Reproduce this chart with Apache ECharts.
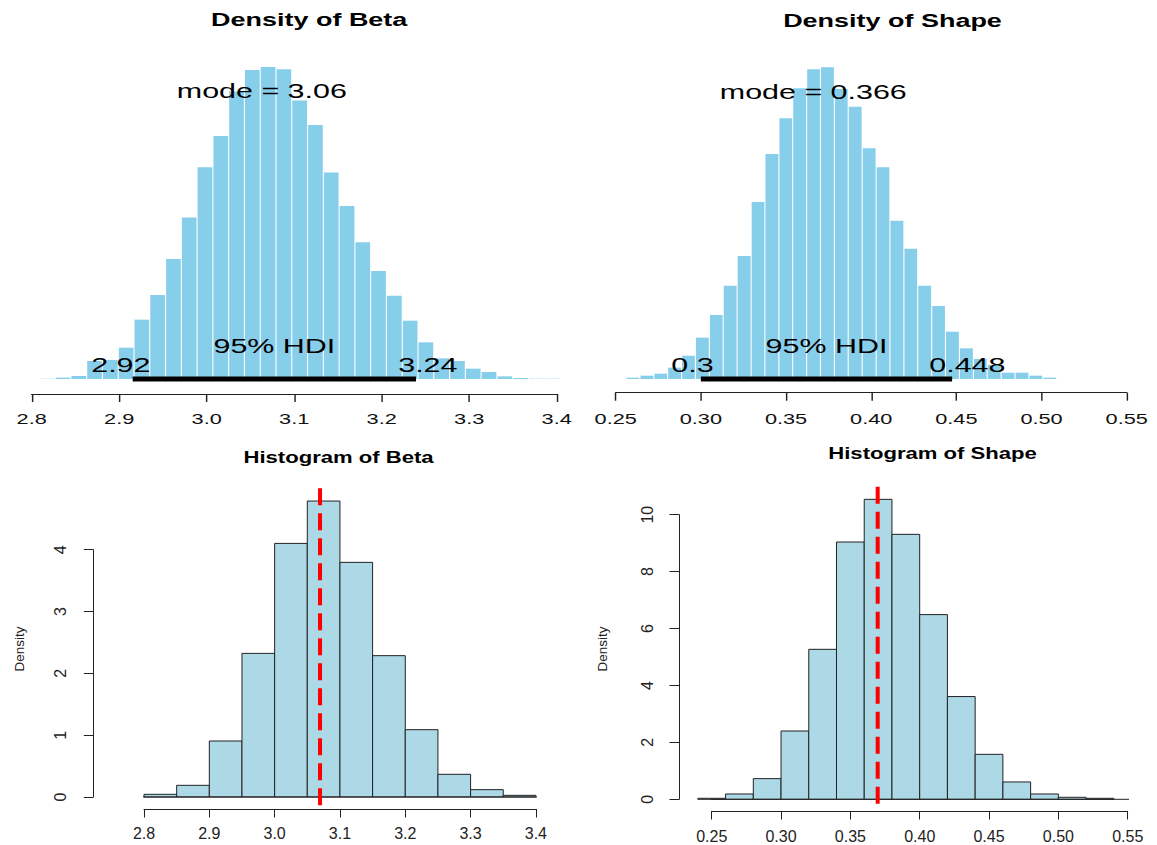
<!DOCTYPE html>
<html>
<head>
<meta charset="utf-8">
<script src="https://cdn.jsdelivr.net/npm/echarts@6/dist/echarts.min.js"></script>
<style>
html,body{margin:0;padding:0;background:#fff;width:1157px;height:845px;overflow:hidden;}
#top{position:absolute;left:0;top:0;height:845px;transform-origin:0 0;}
#bot{position:absolute;left:0;top:0;width:1157px;height:845px;}
</style>
</head>
<body>
<div id="top"></div>
<div id="bot"></div>
<script>
// ---------------- DATA ----------------
// Density of Beta (posterior, fine bins)
const betaBreaks = [2.8087,2.8267,2.8448,2.8628,2.8808,2.8989,2.9169,2.9349,2.9530,2.9710,2.9890,3.0071,3.0251,3.0431,3.0612,3.0792,3.0972,3.1153,3.1333,3.1513,3.1694,3.1874,3.2054,3.2235,3.2415,3.2595,3.2776,3.2956,3.3136,3.3317,3.3497,3.3677,3.3858,3.4038];
const betaDens = [0.005,0.021,0.047,0.280,0.296,0.487,0.923,1.307,1.867,2.510,3.293,3.780,4.470,4.807,4.853,4.817,4.330,3.951,3.210,2.691,2.126,1.680,1.296,0.907,0.570,0.321,0.280,0.161,0.109,0.041,0.016,0.005,0.005];
const betaMode = 3.063;
const betaModeLabel = 'mode = 3.06';
const betaHDI = [2.9154, 3.2392];
const betaHDILabels = ['2.92', '3.24'];
const betaTopTicks = ['2.8','2.9','3.0','3.1','3.2','3.3','3.4'];

// Density of Shape (posterior, fine bins)
const shapeBreaks = [0.2561,0.2642,0.2724,0.2805,0.2887,0.2968,0.3050,0.3131,0.3213,0.3295,0.3376,0.3458,0.3539,0.3621,0.3702,0.3784,0.3865,0.3947,0.4029,0.4110,0.4192,0.4273,0.4355,0.4436,0.4518,0.4600,0.4681,0.4763,0.4844,0.4926,0.5007,0.5089];
const shapeDens = [0.046,0.116,0.185,0.394,0.810,1.436,2.223,3.242,4.272,6.148,7.815,9.054,10.096,10.756,10.825,10.073,9.459,8.012,7.352,5.500,4.527,3.242,2.536,1.644,1.065,0.695,0.486,0.220,0.220,0.116,0.046];
const shapeMode = 0.366;
const shapeModeLabel = 'mode = 0.366';
const shapeHDI = [0.3000, 0.4475];
const shapeHDILabels = ['0.3', '0.448'];
const shapeTopTicks = ['0.25','0.30','0.35','0.40','0.45','0.50','0.55'];

// Histogram of Beta
const betaHistBreaks = [2.80,2.85,2.90,2.95,3.00,3.05,3.10,3.15,3.20,3.25,3.30,3.35,3.40];
const betaHistDens = [0.043,0.189,0.906,2.323,4.102,4.787,3.795,2.286,1.089,0.367,0.119,0.027];
const betaHistLine = 3.0695;
const betaHistXTicks = ['2.8','2.9','3.0','3.1','3.2','3.3','3.4'];
const betaHistYTicks = ['0','1','2','3','4'];

// Histogram of Shape
const shapeHistBreaks = [0.24,0.26,0.28,0.30,0.32,0.34,0.36,0.38,0.40,0.42,0.44,0.46,0.48,0.50,0.52,0.54];
const shapeHistDens = [0.035,0.187,0.726,2.40,5.27,9.04,10.54,9.31,6.49,3.61,1.58,0.61,0.187,0.07,0.035];
const shapeHistLine = 0.3697;
const shapeHistXTicks = ['0.25','0.30','0.35','0.40','0.45','0.50','0.55'];
const shapeHistYTicks = ['0','2','4','6','8','10'];

// ---------------- HELPERS ----------------
const S = 1.45;               // horizontal stretch of the upper figure
const FONT = '"Liberation Sans", Arial, Helvetica, sans-serif';
const AX = '#222';
const mctx = document.createElement('canvas').getContext('2d');
function measure(t, f){ mctx.font = f; return mctx.measureText(t).width; }
function bins(br, d){ return d.map((v,i)=>[br[i], br[i+1], v]); }
function fmt(labels, min, step){ return v => { const k = Math.round((v-min)/step); return labels[k] !== undefined ? labels[k] : ''; }; }
function barRender(fill, stroke){
  return function(params, api){
    const p0 = api.coord([api.value(0), api.value(2)]);
    const p1 = api.coord([api.value(1), 0]);
    return {type:'rect', shape:{x:p0[0], y:p0[1], width:p1[0]-p0[0], height:p1[1]-p0[1]},
            style:{fill:fill, stroke:stroke, lineWidth:1}};
  };
}
function gapBarRender(fill, gap){
  return function(params, api){
    const p0 = api.coord([api.value(0), api.value(2)]);
    const p1 = api.coord([api.value(1), 0]);
    return {type:'rect', shape:{x:p0[0]+gap/2, y:p0[1], width:p1[0]-p0[0]-gap, height:p1[1]-p0[1]},
            style:{fill:fill}};
  };
}
function txtStyle(t, f){
  return {text:t, font:f, fill:'#000', textFill:'#000',
          align:'center', verticalAlign:'middle', textAlign:'center', textVerticalAlign:'middle'};
}
function txt(x, y, t, f){ return {type:'text', x:x, y:y, style:txtStyle(t, f)}; }
function annotRender(mode, modeLabel, maxD, hdi, hdiLabels){
  return function(params, api){
    const f = '21px ' + FONT;
    const pm = api.coord([mode, 0.9*maxD]);
    const pl = api.coord([hdi[0], 0]);
    const ph = api.coord([hdi[1], 0]);
    const pc = api.coord([(hdi[0]+hdi[1])/2, 0]);
    const wl = measure(hdiLabels[0], f), wh = measure(hdiLabels[1], f);
    return {type:'group', children:[
      txt(pm[0], pm[1]-7, modeLabel, f),
      txt(pc[0], pc[1]-33.2, '95% HDI', f),
      txt(pl[0] + (0.5-0.7)*wl, pl[1]-14.2, hdiLabels[0], f),
      txt(ph[0] + (0.5-0.3)*wh, ph[1]-14.2, hdiLabels[1], f)
    ]};
  };
}
function topX(idx, min, max, step, labels, offset, margin){
  return {gridIndex:idx, type:'value', min:min, max:max, interval:step, offset:offset,
    axisLine:{show:true, onZero:false, lineStyle:{color:AX, width:1}},
    axisTick:{show:true, length:8, lineStyle:{color:AX, width:1}},
    splitLine:{show:false},
    axisLabel:{show:true, margin:margin, fontSize:15, fontFamily:FONT, color:'#111',
      showMinLabel:true, showMaxLabel:true, formatter:fmt(labels, min, step)}};
}

// ---------------- TOP (upper figure, stretched) ----------------
const topDiv = document.getElementById('top');
topDiv.style.width = (1157/S) + 'px';
topDiv.style.transform = 'scaleX(' + S + ')';
const topChart = echarts.init(topDiv, null, {renderer:'svg'});
topChart.setOption({
  animation:false,
  backgroundColor:'#fff',
  grid:[
    {left:31.7/S, top:57.5, width:525/S, height:321.5, containLabel:false, outerBoundsMode:'none'},
    {left:615.7/S, top:62.3, width:511/S, height:316.7, containLabel:false, outerBoundsMode:'none'}
  ],
  xAxis:[
    topX(0, 2.8, 3.4, 0.1, betaTopTicks, 15, 17),
    topX(1, 0.25, 0.55, 0.05, shapeTopTicks, 13.7, 18.5)
  ],
  yAxis:[
    {gridIndex:0, type:'value', min:0, max:5, show:false},
    {gridIndex:1, type:'value', min:0, max:11, show:false}
  ],
  graphic:[
    {type:'text', x:309.2/S, y:19.3, style:txtStyle('Density of Beta', 'bold 18.6px '+FONT)},
    {type:'text', x:892.5/S, y:20.8, style:txtStyle('Density of Shape', 'bold 18.6px '+FONT)}
  ],
  series:[
    {type:'custom', xAxisIndex:0, yAxisIndex:0, data:bins(betaBreaks, betaDens), encode:{x:[0,1], y:2}, renderItem:gapBarRender('#87CEEB', 0.75), silent:true},
    {type:'line', xAxisIndex:0, yAxisIndex:0, data:[[betaHDI[0],0],[betaHDI[1],0]], symbol:'none', clip:false, silent:true, lineStyle:{color:'#000', width:5, cap:'butt'}},
    {type:'custom', xAxisIndex:0, yAxisIndex:0, data:[[betaMode, 0]], renderItem:annotRender(betaMode, betaModeLabel, Math.max(...betaDens), betaHDI, betaHDILabels), silent:true, z:5},
    {type:'custom', xAxisIndex:1, yAxisIndex:1, data:bins(shapeBreaks, shapeDens), encode:{x:[0,1], y:2}, renderItem:gapBarRender('#87CEEB', 0.75), silent:true},
    {type:'line', xAxisIndex:1, yAxisIndex:1, data:[[shapeHDI[0],0],[shapeHDI[1],0]], symbol:'none', clip:false, silent:true, lineStyle:{color:'#000', width:5, cap:'butt'}},
    {type:'custom', xAxisIndex:1, yAxisIndex:1, data:[[shapeMode, 0]], renderItem:annotRender(shapeMode, shapeModeLabel, Math.max(...shapeDens), shapeHDI, shapeHDILabels), silent:true, z:5}
  ]
});

// ---------------- BOTTOM (histograms) ----------------
function botX(idx, min, max, step, labels, offset, margin){
  return {gridIndex:idx, type:'value', min:min, max:max, interval:step, offset:offset,
    axisLine:{show:true, onZero:false, lineStyle:{color:AX, width:1}},
    axisTick:{show:true, length:8.5, lineStyle:{color:AX, width:1}},
    splitLine:{show:false},
    axisLabel:{show:true, margin:margin, fontSize:16, fontFamily:FONT, color:'#222',
      showMinLabel:true, showMaxLabel:true, formatter:fmt(labels, min, step)}};
}
function botY(idx, min, max, step, labels, offset, margin){
  return {gridIndex:idx, type:'value', min:min, max:max, interval:step, offset:offset,
    axisLine:{show:true, onZero:false, lineStyle:{color:AX, width:1}},
    axisTick:{show:true, length:9.5, lineStyle:{color:AX, width:1}},
    splitLine:{show:false},
    axisLabel:{show:true, rotate:90, margin:margin, fontSize:16, fontFamily:FONT, color:'#222',
      showMinLabel:true, showMaxLabel:true, formatter:fmt(labels, min, step)}};
}
function vText(x, y, t, f){
  return {type:'text', x:x, y:y, rotation:Math.PI/2, style:Object.assign(txtStyle(t, f), {fill:'#222', textFill:'#222'})};
}
const botChart = echarts.init(document.getElementById('bot'), null, {renderer:'svg'});
botChart.setOption({
  animation:false,
  backgroundColor:'transparent',
  grid:[
    {left:144, top:549.7, width:391.9, height:247.3, containLabel:false, outerBoundsMode:'none'},
    {left:711.7, top:514.7, width:416, height:284.6, containLabel:false, outerBoundsMode:'none'}
  ],
  xAxis:[
    botX(0, 2.8, 3.4, 0.1, betaHistXTicks, 12, 16.3),
    botX(1, 0.25, 0.55, 0.05, shapeHistXTicks, 11.7, 17)
  ],
  yAxis:[
    botY(0, 0, 4, 1, betaHistYTicks, 50.7, 24.8),
    botY(1, 0, 10, 2, shapeHistYTicks, 32.7, 23.4)
  ],
  graphic:[
    {type:'text', x:338.5, y:458, scaleX:1.38, style:txtStyle('Histogram of Beta', 'bold 16px '+FONT)},
    {type:'text', x:932.5, y:454, scaleX:1.38, style:txtStyle('Histogram of Shape', 'bold 16px '+FONT)},
    vText(19, 649, 'Density', '13.5px '+FONT),
    vText(602, 649, 'Density', '13.5px '+FONT)
  ],
  series:[
    {type:'line', xAxisIndex:0, yAxisIndex:0, data:[[2.75,0],[3.45,0]], symbol:'none', clip:false, silent:true, lineStyle:{color:AX, width:1}},
    {type:'custom', xAxisIndex:0, yAxisIndex:0, data:bins(betaHistBreaks, betaHistDens), encode:{x:[0,1], y:2}, renderItem:barRender('#ADD8E6', AX), silent:true},
    {type:'line', xAxisIndex:0, yAxisIndex:0, data:[[betaHistLine,4.993],[betaHistLine,-0.21]], symbol:'none', clip:false, silent:true, z:6, lineStyle:{color:'#ff0000', width:4, type:[17,8], cap:'butt'}},
    {type:'line', xAxisIndex:1, yAxisIndex:1, data:[[0.24,0],[0.575,0]], symbol:'none', clip:false, silent:true, lineStyle:{color:AX, width:1}},
    {type:'custom', xAxisIndex:1, yAxisIndex:1, data:bins(shapeHistBreaks, shapeHistDens), encode:{x:[0,1], y:2}, renderItem:barRender('#ADD8E6', AX), silent:true},
    {type:'line', xAxisIndex:1, yAxisIndex:1, data:[[shapeHistLine,10.98],[shapeHistLine,-0.436]], symbol:'none', clip:false, silent:true, z:6, lineStyle:{color:'#ff0000', width:4, type:[17,8], cap:'butt'}}
  ]
});
</script>
</body>
</html>
